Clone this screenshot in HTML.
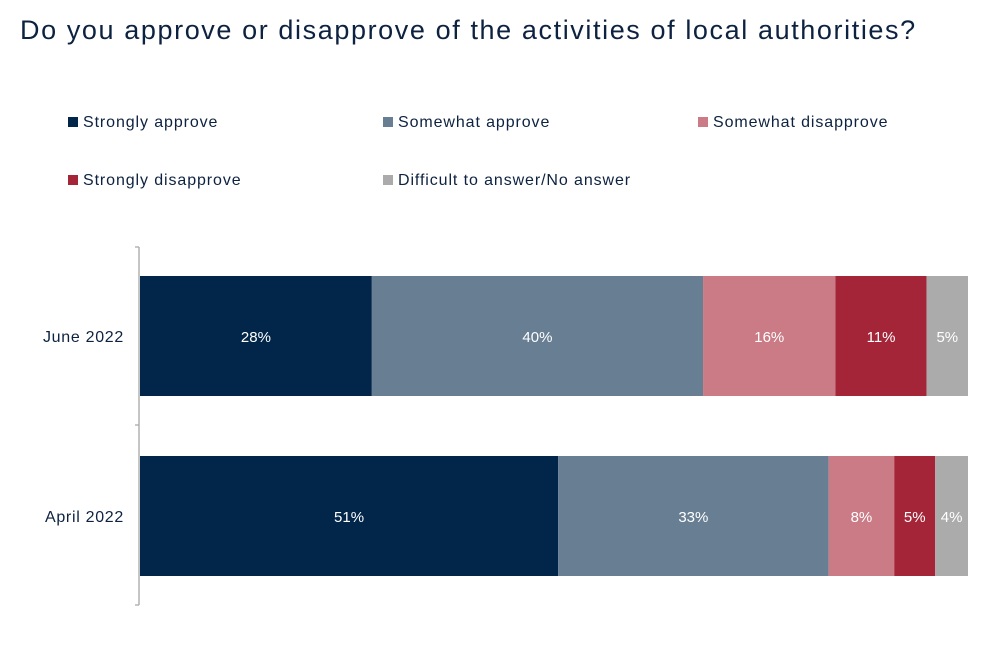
<!DOCTYPE html>
<html><head><meta charset="utf-8"><style>
body{margin:0;width:994px;height:652px;background:#fff;font-family:"Liberation Sans",sans-serif;overflow:hidden;position:relative}
#title{position:absolute;left:20px;top:15px;font-size:27px;letter-spacing:1.6px;color:#0d2240;white-space:nowrap}
.leg{position:absolute;font-size:16px;letter-spacing:0.9px;color:#0d2240;white-space:nowrap}
.leg i{display:inline-block;width:10px;height:10px;margin-right:5px;vertical-align:0px}
</style></head><body>
<div id="title">Do you approve or disapprove of the activities of local authorities?</div>
<div id="legend"></div>
<svg id="chart" width="994" height="652" style="position:absolute;left:0;top:0"></svg>
<script>
const categories=["June 2022","April 2022"];
const seriesNames=["Strongly approve","Somewhat approve","Somewhat disapprove","Strongly disapprove","Difficult to answer/No answer"];
const stronglyApprove=[28,51];
const somewhatApprove=[40,33];
const somewhatDisapprove=[16,8];
const stronglyDisapprove=[11,5];
const difficult=[5,4];
const colors=["#02264a","#687e92","#ca7b86","#a42538","#ababab"];
const series=[stronglyApprove,somewhatApprove,somewhatDisapprove,stronglyDisapprove,difficult];
const legPos=[[68,114],[383,114],[698,114],[68,172],[383,172]];
const lg=document.getElementById('legend');
seriesNames.forEach((n,i)=>{
  const d=document.createElement('div');d.className='leg';
  
  
  d.style.left=legPos[i][0]+'px';d.style.top=legPos[i][1]+'px';
  d.innerHTML='<i style="background:'+colors[i]+'"></i>'+n;lg.appendChild(d);
});
const svg=document.getElementById('chart');const NS='http://www.w3.org/2000/svg';
const x0=140,x1=968,rowTop=[276,456],barH=120;
function mk(t,a){const e=document.createElementNS(NS,t);for(const k in a)e.setAttribute(k,a[k]);svg.appendChild(e);return e;}
const ax=mk('path',{d:'M139,247V605M135,247H139M135,425H139M135,605H139',stroke:'#a6a6a6','stroke-width':1.3,fill:'none'});


categories.forEach((c,r)=>{
  const tot=series.reduce((s,a)=>s+a[r],0);
  const sx=v=>v/tot*(x1-x0);
  let x=x0;
  const y=rowTop[r];
  const lab=mk('text',{x:124,y:y+barH/2+6,'text-anchor':'end','font-size':16,'letter-spacing':0.7,fill:'#0d2240'});
  lab.textContent=c;
  
  
  series.forEach((s,i)=>{
    const w=sx(s[r]);
    const b=mk('rect',{x:x,y:y,width:w,height:barH,fill:colors[i]});
    
    
    const t=mk('text',{x:x+w/2,y:y+barH/2+6,'text-anchor':'middle','font-size':15,fill:'#fff'});
    t.textContent=s[r]+'%';
    
    
    x+=w;
  });
});
</script>
</body></html>
